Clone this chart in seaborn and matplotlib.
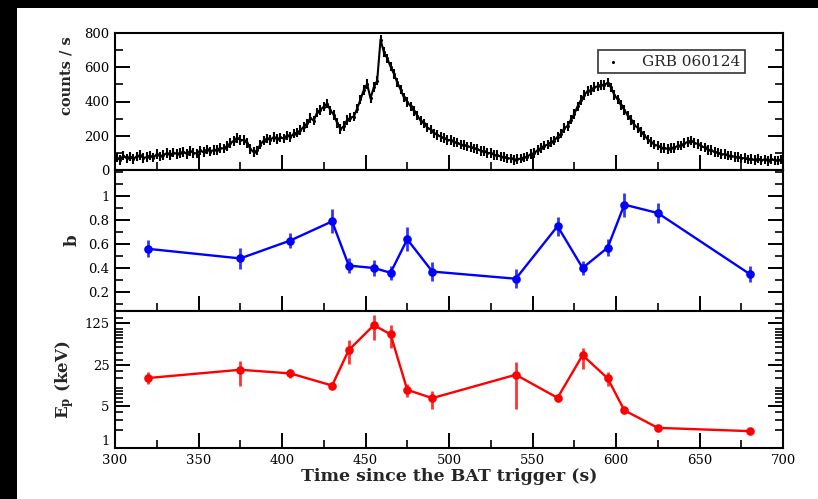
import numpy as np
import matplotlib
matplotlib.use("Agg")
import matplotlib.pyplot as plt
from matplotlib.patches import Rectangle
from matplotlib.ticker import MultipleLocator, FixedLocator, NullFormatter
import seaborn as sns

# ---- BAT light curve of GRB 060124 (2 s bins starting at 300 s) ----
lc_start = 301.0
lc_step = 2.0
counts = [
    72, 60, 84, 68, 78, 64, 80, 86, 70, 76,
    84, 72, 92, 80, 88, 98, 86, 102, 94, 100,
    106, 94, 112, 100, 96, 114, 104, 120, 108, 116,
    118, 128, 126, 140, 156, 170, 188, 176, 174, 158,
    124, 104, 114, 148, 172, 184, 176, 192, 180, 190,
    184, 202, 192, 212, 218, 232, 252, 272, 304, 288,
    336, 352, 370, 388, 348, 322, 276, 238, 256, 292,
    306, 312, 358, 412, 468, 502, 418, 484, 522, 762,
    688, 652, 604, 562, 512, 470, 424, 398, 372, 344,
    318, 288, 272, 248, 236, 214, 206, 194, 186, 176,
    174, 162, 160, 148, 146, 138, 134, 126, 122, 112,
    110, 100, 98, 88, 86, 78, 76, 68, 68, 60,
    64, 66, 74, 78, 94, 98, 116, 128, 142, 148,
    162, 172, 194, 212, 244, 258, 294, 326, 372, 408,
    438, 462, 466, 484, 488, 498, 496, 510, 482, 438,
    412, 378, 352, 318, 292, 262, 246, 222, 202, 178,
    162, 148, 142, 130, 130, 122, 130, 130, 142, 144,
    156, 164, 172, 158, 152, 138, 132, 118, 116, 104,
    102, 92, 92, 84, 84, 76, 76, 68, 70, 62,
    64, 58, 66, 56, 62, 54, 64, 56, 56, 62,
]
count_err = 28

# ---- time-resolved spectral fits ----
t_fit = [320, 375, 405, 430, 440, 455, 465, 475, 490, 540, 565, 580, 595, 605, 625, 680]
b_val = [0.56, 0.48, 0.63, 0.79, 0.42, 0.40, 0.36, 0.64, 0.37, 0.31, 0.75, 0.40, 0.57, 0.93, 0.86, 0.35]
b_err = [0.07, 0.09, 0.06, 0.10, 0.06, 0.07, 0.06, 0.10, 0.08, 0.08, 0.08, 0.06, 0.07, 0.10, 0.08, 0.07]
ep_val = [15.0, 20.6, 17.9, 11.2, 44.3, 115.7, 81.1, 9.47, 6.88, 17.0, 6.96, 36.2, 14.8, 4.29, 2.18, 1.92]
ep_low = [11.9, 11.2, 15.0, 9.85, 25.7, 64.3, 48.4, 7.14, 4.57, 4.57, 6.2, 21.3, 11.2, 3.9, 2.0, 1.8]
ep_high = [18.6, 29.1, 21.3, 13.0, 64.3, 169.0, 115.7, 11.9, 9.22, 27.3, 7.8, 48.4, 18.6, 4.7, 2.35, 2.05]

ep_ticks = [1, 5, 25, 125]
ep_minor = [2, 3, 4, 6, 7, 8, 9, 10, 15, 20, 30, 40, 50, 60, 70, 80, 90, 100, 150, 200]

sns.set_style("ticks")
plt.rcParams["font.family"] = ["DejaVu Serif"]
plt.rcParams["mathtext.fontset"] = "dejavuserif"

W, H = 818, 499
fig = plt.figure(figsize=(W / 100, H / 100), dpi=100)
fig.patch.set_facecolor("black")
fig.patches.append(Rectangle((17 / W, 0), 1 - 17 / W, (H - 8) / H,
                             transform=fig.transFigure, facecolor="white",
                             edgecolor="none", zorder=-10))

left, width = 115 / W, 668 / W
ax1 = fig.add_axes([left, (H - 170) / H, width, 137 / H])
ax2 = fig.add_axes([left, (H - 311) / H, width, 141 / H], sharex=ax1)
ax3 = fig.add_axes([left, (H - 448) / H, width, 137 / H], sharex=ax1)

t_lc = lc_start + lc_step * np.arange(len(counts))

# light curve
ax1.errorbar(t_lc, counts, yerr=count_err, fmt="none", ecolor="black",
             elinewidth=1.5, zorder=2)
sns.lineplot(x=t_lc, y=counts, ax=ax1, color="black", linewidth=1.5, zorder=2)
sns.scatterplot(x=t_lc, y=counts, ax=ax1, color="black", s=5, linewidth=0,
                label="GRB 060124", zorder=3)
ax1.set_ylim(0, 800)
ax1.yaxis.set_major_locator(MultipleLocator(200))
ax1.yaxis.set_minor_locator(MultipleLocator(100))
ax1.set_ylabel("counts / s", fontsize=10.5, fontweight="bold")
ax1.yaxis.set_label_coords(-0.062, 0.69)
leg = ax1.legend(loc="upper left", bbox_to_anchor=((598 - 115) / 668, (170 - 50) / 137),
                 borderaxespad=0, frameon=True, fancybox=False, fontsize=11,
                 handlelength=1.3, handletextpad=1.3, borderpad=0.3)
leg.get_frame().set_edgecolor("black")
leg.get_frame().set_linewidth(1.2)

# photon index b
ax2.errorbar(t_fit, b_val, yerr=b_err, fmt="none", ecolor="blue",
             elinewidth=2.0, alpha=0.8, zorder=2)
sns.lineplot(x=t_fit, y=b_val, ax=ax2, color="blue", linewidth=1.7,
             marker="o", markersize=6.2, markeredgewidth=0, zorder=3)
ax2.set_ylim(0.04, 1.22)
ax2.set_yticks([0.2, 0.4, 0.6, 0.8, 1.0])
ax2.set_yticklabels(["0.2", "0.4", "0.6", "0.8", "1"])
ax2.yaxis.set_minor_locator(MultipleLocator(0.1))
ax2.set_ylabel("b", fontsize=12, fontweight="bold")
ax2.yaxis.set_label_coords(-0.052, 0.5)

# peak energy
ep_arr = np.array(ep_val)
ep_yerr = [ep_arr - np.array(ep_low), np.array(ep_high) - ep_arr]
ax3.errorbar(t_fit, ep_val, yerr=ep_yerr, fmt="none", ecolor="red",
             elinewidth=2.0, alpha=0.8, zorder=2)
sns.lineplot(x=t_fit, y=ep_val, ax=ax3, color="red", linewidth=1.7,
             marker="o", markersize=6.2, markeredgewidth=0, zorder=3)
ax3.set_yscale("log")
ax3.set_ylim(1, 200)
ax3.yaxis.set_major_locator(FixedLocator(ep_ticks))
ax3.set_yticklabels([str(v) for v in ep_ticks])
ax3.yaxis.set_minor_locator(FixedLocator(ep_minor))
ax3.yaxis.set_minor_formatter(NullFormatter())
ax3.set_ylabel(r"E$_\mathbf{p}$ (keV)", fontsize=12, fontweight="bold")
ax3.yaxis.set_label_coords(-0.058, 0.5)

ax3.set_xlim(300, 700)
ax3.xaxis.set_major_locator(MultipleLocator(50))
ax3.xaxis.set_minor_locator(MultipleLocator(25))
ax3.set_xlabel("Time since the BAT trigger (s)", fontsize=12.5, fontweight="bold",
               labelpad=1)

for ax in (ax1, ax2, ax3):
    for sp in ax.spines.values():
        sp.set_visible(True)
        sp.set_linewidth(1.5)
        sp.set_color("black")
    ax.tick_params(axis="both", which="both", direction="in", colors="black",
                   labelsize=9.5, top=False, right=True, bottom=True, left=True,
                   pad=4)
    ax.tick_params(axis="both", which="major", length=10.5, width=1.4)
    ax.tick_params(axis="both", which="minor", length=6, width=1.2)
    ax.set_facecolor("white")
    ax.grid(False)

for ax in (ax1, ax2):
    ax.tick_params(axis="x", which="both", labelbottom=False)
    ax.set_xlabel("")

# lift the lowest E_p label so it sits just above the time labels
fig.canvas.draw()
for lab in ax3.get_yticklabels():
    if lab.get_text() == "1":
        lab.set_verticalalignment("bottom")

fig.savefig("out.png", dpi=100, facecolor=fig.get_facecolor())
